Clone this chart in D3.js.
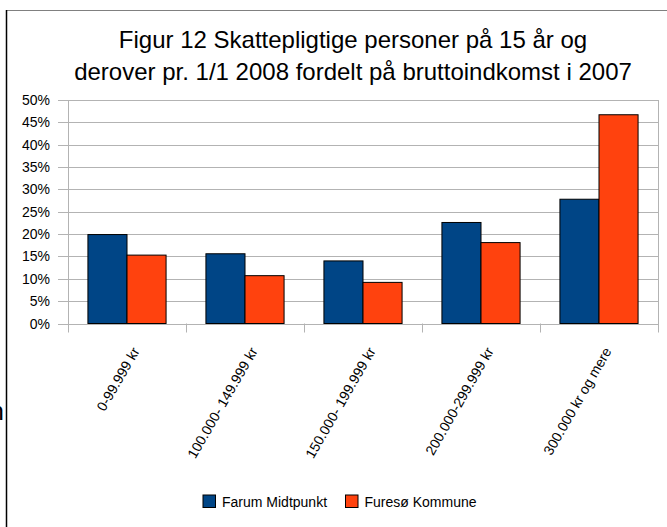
<!DOCTYPE html>
<html>
<head>
<meta charset="utf-8">
<script src="https://cdn.jsdelivr.net/npm/d3@7"></script>
<style>
  body { margin: 0; background: #fff; }
  svg { display: block; font-family: "Liberation Sans", Arial, sans-serif; }
</style>
</head>
<body>
<svg id="chart" width="667" height="527"></svg>
<script>
// Chart data
const categories = ["0-99.999 kr", "100.000- 149.999 kr", "150.000- 199.999 kr",
                    "200.000-299.999 kr", "300.000 kr og mere"];
const seriesNames = ["Farum Midtpunkt", "Furesø Kommune"];
const farum = [0.199, 0.156, 0.140, 0.226, 0.278];
const furesoe = [0.153, 0.107, 0.092, 0.181, 0.467];
const yTicks = [0, 0.05, 0.10, 0.15, 0.20, 0.25, 0.30, 0.35, 0.40, 0.45, 0.50];
const titleLines = ["Figur 12 Skattepligtige personer på 15 år og",
                    "derover pr. 1/1 2008 fordelt på bruttoindkomst i 2007"];

const colors = ["#004586", "#ff420e"];
const gridColor = "#b3b3b3";

const svg = d3.select("#chart");
const plot = {left: 68, right: 658, top: 100, bottom: 323.5};

// Frame around the chart (only top and left edges are visible)
svg.append("line")
    .attr("x1", 6).attr("x2", 667).attr("y1", 10.5).attr("y2", 10.5)
    .attr("stroke", "#808080").attr("stroke-width", 1);
svg.append("line")
    .attr("x1", 6.5).attr("x2", 6.5).attr("y1", 10).attr("y2", 527)
    .attr("stroke", "#000").attr("stroke-width", 1.5);

// stray glyph cut by the left edge of the picture (as in the reference)
svg.append("text")
    .attr("x", 4).attr("y", 420)
    .attr("text-anchor", "end")
    .style("font-size", "26px")
    .text("n");

// Title
svg.append("g").selectAll("text")
    .data(titleLines)
    .join("text")
    .attr("x", 353)
    .attr("y", (d, i) => 48 + i * 32)
    .attr("text-anchor", "middle")
    .style("font-size", "24px")
    .text(d => d);

const x = d3.scaleBand()
    .domain(categories)
    .range([plot.left, plot.right])
    .padding(0);

const x1 = d3.scaleBand()
    .domain(seriesNames)
    .range([0, x.bandwidth()])
    .paddingInner(0)
    .paddingOuter(0.51);

const y = d3.scaleLinear()
    .domain([0, 0.5])
    .range([plot.bottom, plot.top]);

// Horizontal grid lines
svg.append("g").selectAll("line")
    .data(yTicks)
    .join("line")
    .attr("x1", plot.left - 10)
    .attr("x2", plot.right)
    .attr("y1", d => Math.round(y(d)) + 0.5)
    .attr("y2", d => Math.round(y(d)) + 0.5)
    .attr("stroke", gridColor);

// Y axis labels
svg.append("g").selectAll("text")
    .data(yTicks)
    .join("text")
    .attr("x", 50)
    .attr("y", d => y(d))
    .attr("dy", "0.36em")
    .attr("text-anchor", "end")
    .style("font-size", "14px")
    .text(d => d3.format(".0%")(d));

// Vertical lines at category borders (axis, ticks and right edge)
const borders = categories.map(c => x(c)).concat([plot.right]);
svg.append("g").selectAll("line")
    .data(borders)
    .join("line")
    .attr("x1", d => Math.round(d) + 0.5)
    .attr("x2", d => Math.round(d) + 0.5)
    .attr("y1", (d, i) => (i === 0 || i === borders.length - 1) ? plot.top : plot.bottom)
    .attr("y2", plot.bottom + 9)
    .attr("stroke", gridColor);

// Bars
const rows = categories.map((c, i) => ({cat: c, values: [farum[i], furesoe[i]]}));
const groups = svg.append("g").selectAll("g")
    .data(rows)
    .join("g")
    .attr("transform", d => `translate(${x(d.cat)},0)`);

groups.selectAll("rect")
    .data(d => d.values.map((v, i) => ({name: seriesNames[i], value: v, i: i})))
    .join("rect")
    .attr("x", d => x1(d.name))
    .attr("y", d => y(d.value))
    .attr("width", x1.bandwidth())
    .attr("height", d => plot.bottom - y(d.value))
    .attr("fill", d => colors[d.i])
    .attr("stroke", "#000")
    .attr("stroke-width", 1);

// Rotated category labels
svg.append("g").selectAll("text")
    .data(categories)
    .join("text")
    .attr("transform", d => `translate(${x(d) + x.bandwidth() / 2 + 13},351) rotate(-60)`)
    .attr("text-anchor", "end")
    .style("font-size", "14px")
    .text(d => d);

// Legend
const legendX = [203, 345.5];
const legend = svg.append("g").selectAll("g")
    .data(seriesNames)
    .join("g")
    .attr("transform", (d, i) => `translate(${legendX[i]},495)`);

legend.append("rect")
    .attr("width", 12.5).attr("height", 12.5)
    .attr("fill", (d, i) => colors[i])
    .attr("stroke", "#000");

legend.append("text")
    .attr("x", 19)
    .attr("y", 12)
    .style("font-size", "14px")
    .text(d => d);
</script>
</body>
</html>
